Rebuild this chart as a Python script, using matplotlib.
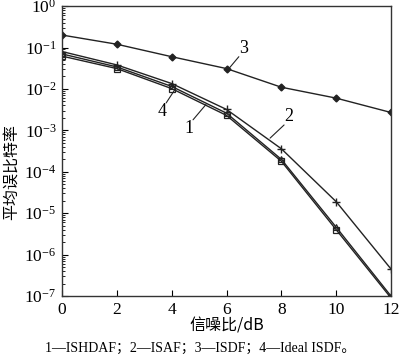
import matplotlib
matplotlib.use("Agg")
import matplotlib.pyplot as plt
from matplotlib.ticker import LogLocator, NullFormatter

plt.rcParams['font.family'] = ['Liberation Serif', 'Noto Sans CJK SC']
plt.rcParams['mathtext.fontset'] = 'custom'
plt.rcParams['mathtext.rm'] = 'Liberation Serif'
plt.rcParams['mathtext.it'] = 'Liberation Serif:italic'

snr = [0, 2, 4, 6, 8, 10, 12]
ber_isdf = [0.2, 0.12, 0.06, 0.031, 0.011, 0.006, 0.0027]
ber_isaf = [0.08, 0.038, 0.0135, 0.0032, 3.6e-4, 1.9e-5, 4.5e-7]
ber_ishdaf = [0.07, 0.034, 0.0115, 0.0026, 2.0e-4, 4.6e-6, 1.0e-7]
ber_ideal = [0.062, 0.031, 0.0102, 0.0023, 1.8e-4, 4.0e-6, 0.9e-7]

xticks = [0, 2, 4, 6, 8, 10, 12]
xlabel = '信噪比/dB'
ylabel = '平均误比特率'
caption = '1—ISHDAF；2—ISAF；3—ISDF；4—Ideal ISDF。'

fig = plt.figure(figsize=(4.0, 3.58), dpi=100)
ax = fig.add_axes([0.155, 0.173, 0.8225, 0.81])

lc = '#222222'
ax.plot(snr, ber_isdf, color=lc, lw=1.0, marker='D', ms=3.5, mfc=lc, mec=lc)
ax.plot(snr, ber_isaf, color=lc, lw=1.0, marker='+', ms=6, mew=1.0)
ax.plot(snr, ber_ishdaf, color=lc, lw=1.0, marker='^', ms=4, mfc='none', mew=0.8)
ax.plot(snr, ber_ideal, color=lc, lw=1.0, marker='s', ms=5, mfc='none', mew=0.9)

ax.set_yscale('log')
ax.set_xlim(0, 12)
ax.set_ylim(1e-7, 1)
ax.set_xticks(xticks)
ax.yaxis.set_major_locator(LogLocator(base=10, numticks=10))
ax.yaxis.set_minor_locator(LogLocator(base=10, subs=range(2, 10), numticks=10))
ax.yaxis.set_minor_formatter(NullFormatter())
ax.tick_params(axis='both', which='both', direction='in', top=False, right=False)
ax.tick_params(axis='both', which='major', length=4, labelsize=12.5, width=0.8, pad=4)
ax.tick_params(axis='y', which='minor', length=2, width=0.6)
for s in ax.spines.values():
    s.set_linewidth(1.0)
    s.set_color('#333333')

fig.text(0.5675, 0.09, xlabel, ha='center', va='center', fontsize=11.5,
         family=['Noto Sans CJK SC', 'Liberation Serif'])
fig.text(0.028, 0.52, ylabel, ha='center', va='center', rotation=90, fontsize=11.5,
         family=['Noto Sans CJK SC', 'Liberation Serif'])
fig.text(0.5, 0.027, caption, ha='center', va='center', fontsize=10,
         family=['Liberation Serif', 'Noto Sans CJK SC'])

ann_labels = ['3', '2', '1', '4']
ann_tip = [(6.05, 0.029), (7.59, 6.5e-4), (5.25, 4.2e-3), (4.12, 9.7e-3)]
ann_text = [(6.45, 0.06), (8.1, 1.35e-3), (4.78, 1.8e-3), (3.8, 4.6e-3)]
ann_ha = ['left', 'left', 'right', 'right']
ann_va = ['bottom', 'bottom', 'top', 'top']
for lab, tip, txt, ha, va in zip(ann_labels, ann_tip, ann_text, ann_ha, ann_va):
    ax.annotate('', xy=tip, xytext=txt,
                arrowprops=dict(arrowstyle='-', color=lc, lw=0.8, shrinkA=0, shrinkB=0))
    ax.text(txt[0], txt[1], lab, ha=ha, va=va, fontsize=13)

fig.savefig('out.png', dpi=100)
